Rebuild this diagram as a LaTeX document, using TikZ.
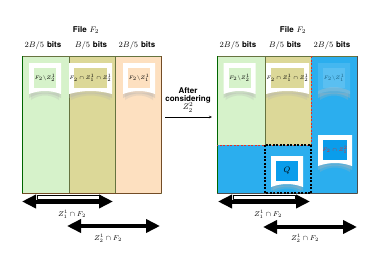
\documentclass[tikz,border=0pt]{standalone}
\usepackage{amsmath}
\usepackage{amssymb}
\usepackage{fontspec}
\setsansfont{TeX Gyre Heros}
\usetikzlibrary{arrows.meta}
\definecolor{cgreen}{HTML}{D6F2CA}
\definecolor{colive}{HTML}{DCD898}
\definecolor{cpeach}{HTML}{FDE0C0}
\definecolor{cblue}{HTML}{2BAEEE}
\definecolor{cqblue}{HTML}{0A9DEB}
\definecolor{cedge}{HTML}{66733F}
\definecolor{cred}{HTML}{E0302A}
\tikzset{
  every picture/.style={line join=round},
  hdr/.style={font=\fontsize{8}{9}\selectfont},
  lbl/.style={font=\fontsize{7}{8}\selectfont, inner sep=1pt},
  boxtxt/.style={font=\fontsize{5.5}{6}\selectfont, inner sep=1pt},
  colrule/.style={draw=cedge, line width=0.6pt},
  bigarrow/.style={line width=4pt, {Triangle[length=14pt,width=13pt]}-{Triangle[length=14pt,width=13pt]}},
}
% framed tag with a shadow under its curved foot
% [scope options]{name}{x}{y}{half width}{inner colour}{text}
\newcommand{\tagbox}[7][]{%
  \begin{scope}[shift={(#3,#4)},#1]
    \fill[black!30,opacity=.35] (-#5,12) .. controls (-#5/3,7) and (#5/3,7) .. (#5,12)
      -- (#5,19) .. controls (#5/3,13) and (-#5/3,13) .. (-#5,19) -- cycle;
    \fill[black!30,opacity=.25] (-#5+2,14) -- (#5-2,14) -- (#5-2,21) .. controls (#5/3,15) and (-#5/3,15) .. (-#5+2,21) -- cycle;
    \fill[white] (-#5,-16) -- (#5,-16) -- (#5,15) .. controls (#5/3,11) and (-#5/3,11) .. (-#5,15) -- cycle;
    \fill[#6] (-#5+5,-11) rectangle (#5-5,9);
  \end{scope}
  \node[boxtxt] (#2) at (#3,#4-1) {#7};}

\begin{document}
\begin{tikzpicture}[x=1pt,y=-1pt]
\useasboundingbox (0,0) rectangle (374,265);

% file before
\fill[cgreen] (22,56) rectangle (69,193);
\fill[colive] (69,56) rectangle (115,193);
\fill[cpeach] (115,56) rectangle (161,193);
\draw[colrule] (22,56) rectangle (161,193);
\draw[colrule] (69,56) -- (69,193) (115,56) -- (115,193);
\draw[draw=green!40!black,line width=.6pt] (22,56) -- (22,193);
\draw[draw=brown!60!black,line width=.6pt] (161,56) -- (161,193) (22,193) -- (161,193);

\node[hdr] (fileL) at (86,30) {\textsf{\bfseries File} $F_2$};
\node[hdr] (bitsLa) at (43,45) {$2B/5$ \textsf{\bfseries bits}};
\node[hdr] (bitsLb) at (91,45) {$B/5$ \textsf{\bfseries bits}};
\node[hdr] (bitsLc) at (137,45) {$2B/5$ \textsf{\bfseries bits}};

\tagbox{tagLa}{45}{79}{16}{cgreen}{$F_2\backslash Z_2^1$}
\tagbox{tagLb}{90.5}{79}{21.5}{colive}{\fontsize{4}{5}\selectfont$F_2\cap Z_1^1\cap Z_2^1$}
\tagbox{tagLc}{139}{79}{16}{cpeach}{$F_2\backslash Z_1^1$}

% which parts the two caches hold
\coordinate (zaL) at (22,201.5);
\coordinate (zaR) at (113,201.5);
\coordinate (zbL) at (67,226);
\coordinate (zbR) at (160,226);
\draw[fill=white,line width=.6pt] (37,195) rectangle (100,199.5);
\draw[bigarrow] (zaL) -- (zaR);
\draw[bigarrow] (zbL) -- (zbR);
\node[lbl] (capaL) at (72,214) {$Z_1^1\cap F_2$};
\node[lbl] (capbL) at (108,238) {$Z_2^1\cap F_2$};

% step between the two
\node[hdr,align=center,inner sep=0pt] (after) at (188,100)
  {\textsf{\bfseries After}\\[-1pt]\textsf{\bfseries considering}\\[-1pt]$Z_2^2$};
\coordinate (stepL) at (165,117);
\coordinate (stepR) at (212,117);
\draw[-{Stealth[length=3pt,width=2.5pt]},line width=.6pt] (stepL) -- (stepR);

% file after
\fill[cgreen] (217,56) rectangle (265,145);
\fill[colive] (265,56) rectangle (311,145);
\fill[cblue] (311,56) rectangle (357,193);
\fill[cblue] (217,145) rectangle (311,193);
\draw[colrule] (217,56) rectangle (357,193);
\draw[colrule] (265,56) -- (265,145);
\draw[draw=green!40!black,line width=.6pt] (217,56) -- (217,193);
\draw[draw=black!70,line width=.6pt] (357,56) -- (357,193) (217,193) -- (357,193);

\node[hdr] (fileR) at (293,30) {\textsf{\bfseries File} $F_2$};
\node[hdr] (bitsRa) at (238,45) {$2B/5$ \textsf{\bfseries bits}};
\node[hdr] (bitsRb) at (285,45) {$B/5$ \textsf{\bfseries bits}};
\node[hdr] (bitsRc) at (332,45) {$2B/5$ \textsf{\bfseries bits}};

\tagbox{tagRa}{239.5}{79}{16}{cgreen}{$F_2\backslash Z_2^1$}
\tagbox{tagRb}{287.5}{79}{21.5}{colive}{\fontsize{4}{5}\selectfont$F_2\cap Z_1^1\cap Z_2^1$}
\tagbox[opacity=.12]{tagRc}{334}{79}{16}{white}{\textcolor{cblue!55!black}{$F_2\backslash Z_1^1$}}

\draw[cred,line width=1pt,dash pattern=on 2pt off 1.5pt] (311,56) -- (311,145) -- (217,145);
\draw[black,line width=1.3pt,dash pattern=on 2pt off 1.5pt] (265,145) rectangle (311,193);

\tagbox{tagQ}{287}{172}{16}{cqblue}{\fontsize{8}{9}\selectfont$Q$}
\tagbox{tagRd}{335}{151}{17}{cqblue}{\textcolor{cred}{$F_2\cap Z_1^2$}}

\coordinate (zaL') at (218,201.5);
\coordinate (zaR') at (310,201.5);
\coordinate (zbL') at (263,227);
\coordinate (zbR') at (357,227);
\draw[fill=white,line width=.6pt] (233,195) rectangle (295,199.5);
\draw[bigarrow] (zaL') -- (zaR');
\draw[bigarrow] (zbL') -- (zbR');
\node[lbl] (capaR) at (268,214) {$Z_1^1\cap F_2$};
\node[lbl] (capbR) at (305,238) {$Z_2^1\cap F_2$};
\end{tikzpicture}
\end{document}
